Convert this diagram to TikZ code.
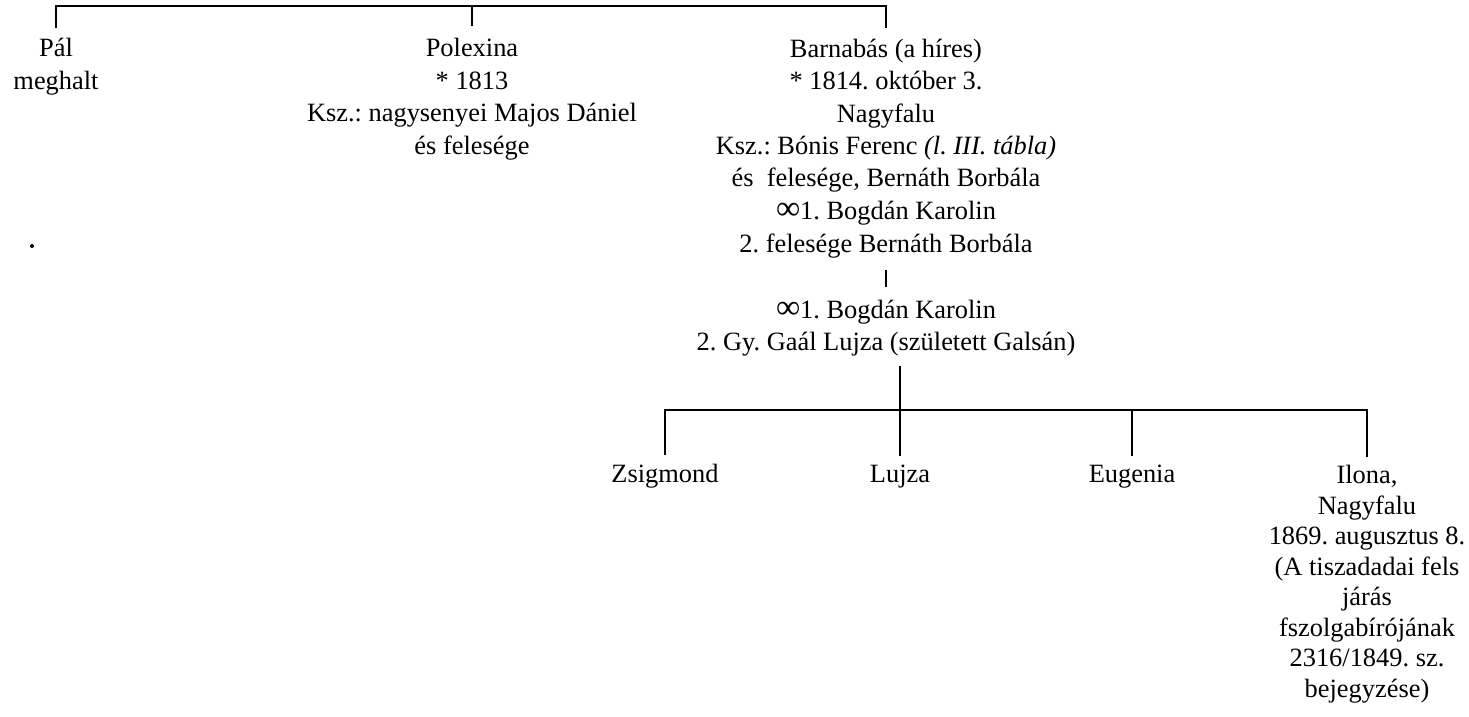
\documentclass[tikz,border=0pt]{standalone}
\usepackage{fontspec}
\setmainfont{Liberation Serif}
\frenchspacing
\newcommand{\infsym}{{\fontsize{17}{17}\selectfont ∞}}
\begin{document}
\begin{tikzpicture}[x=0.5pt,y=-0.5pt,
  txt/.style={inner sep=0pt, align=center, anchor=base, font=\fontsize{13.2}{16.25}\selectfont},
  ilona/.style={txt, font=\fontsize{13.2}{15.25}\selectfont},
  bar/.style={line width=1pt},
  link/.style={line width=0.6pt}]
\useasboundingbox (0,0) rectangle (1469,717);
\coordinate (top) at (0,6);
\coordinate (cbar) at (0,410);
% first generation (anchor = baseline of the last line)
\node[txt] (pal) at (56,89.5) {Pál\\meghalt};
\node[txt] (polexina) at (472,154.5) {Polexina\\* 1813\\Ksz.: nagysenyei Majos Dániel\\és felesége};
\node[txt] (barnabas) at (886,252) {Barnabás (a híres)\\* 1814. október 3.\\Nagyfalu\\Ksz.: Bónis Ferenc \textit{(l. III. tábla)}\\és~ felesége, Bernáth Borbála\\\infsym1. Bogdán Karolin\\2. felesége Bernáth Borbála};
\node[txt] (marr) at (886,350.5) {\infsym1. Bogdán Karolin\\2. Gy. Gaál Lujza (született Galsán)};
% children
\node[txt] (zs) at (665,482) {Zsigmond};
\node[txt] (lu) at (900,482) {Lujza};
\node[txt] (eu) at (1132,482) {Eugenia};
\node[ilona] (il) at (1367,697) {Ilona,\\Nagyfalu\\1869. augusztus 8.\\(A tiszadadai fels\\járás\\fszolgabírójának\\2316/1849. sz.\\bejegyzése)};
% stray dot
\fill (32,246) circle[radius=1pt];
% top bracket
\draw[bar] ([yshift=5pt]pal.north) -- (pal.north |- top) -- (barnabas.north |- top) -- ([yshift=5pt]barnabas.north);
\draw[bar] (polexina.north |- top) -- ([yshift=6pt]polexina.north);
% Barnabas to marriage
\draw[link] ([yshift=-6pt]barnabas.south) -- ([yshift=6pt]marr.north);
% marriage to children bar
\draw[link] ([yshift=-4.5pt]lu.north |- marr.south) -- (lu.north |- cbar);
\draw[bar] ([yshift=4pt]zs.north) -- (zs.north |- cbar) -- (il.north |- cbar) -- ([yshift=4pt]il.north);
\draw[bar] (lu.north |- cbar) -- ([yshift=4pt]lu.north);
\draw[bar] (eu.north |- cbar) -- ([yshift=4pt]eu.north);
\end{tikzpicture}
\end{document}
